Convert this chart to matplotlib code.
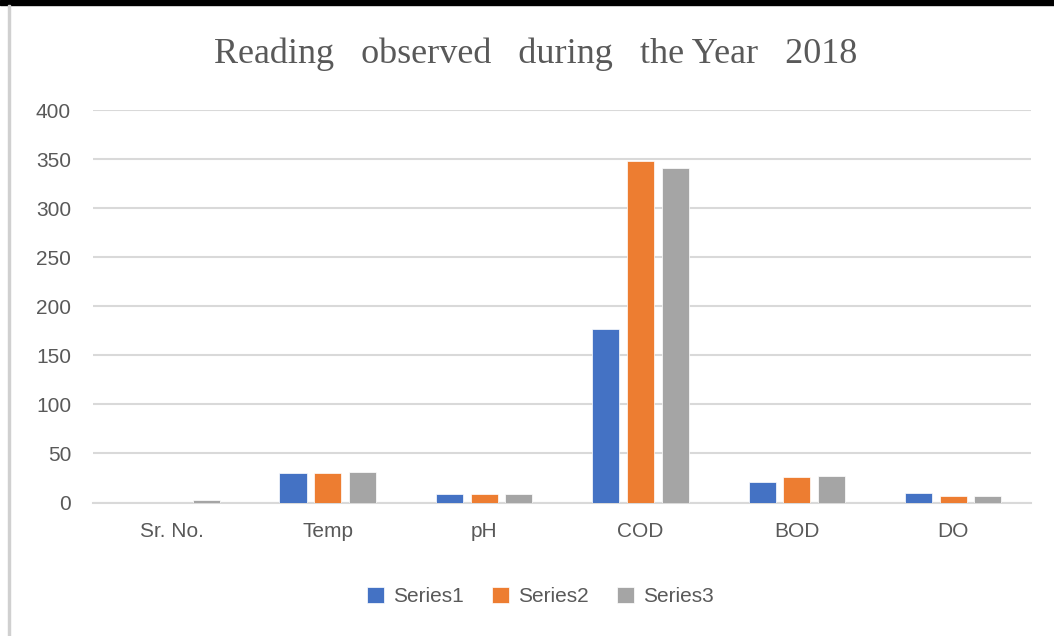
import matplotlib
matplotlib.use("Agg")
import matplotlib.pyplot as plt
import numpy as np
from matplotlib.patches import Rectangle

categories = ["Sr. No.", "Temp", "pH", "COD", "BOD", "DO"]
series_names = ["Series1", "Series2", "Series3"]
series1 = [0, 30, 8.5, 177, 21, 10]
series2 = [0, 30, 8.5, 348, 25.5, 6.5]
series3 = [3, 31.5, 8.5, 341, 27, 6.5]
colors = ["#4472C4", "#ED7D31", "#A5A5A5"]
yticks = [0, 50, 100, 150, 200, 250, 300, 350, 400]
title = "Reading   observed   during   the Year   2018"

fig = plt.figure(figsize=(10.54, 6.36), dpi=100)
ax = fig.add_axes([0.0885, 0.2099, 0.890, 0.617])

x = np.arange(len(categories))
w = 0.173
off = 0.2225
for i, (vals, name, c) in enumerate(zip([series1, series2, series3], series_names, colors)):
    ax.bar(x + (i - 1) * off, vals, width=w, color=c, label=name,
           edgecolor="white", linewidth=0.5, zorder=3)

ax.set_xlim(-0.5, len(categories) - 0.5)
ax.set_ylim(0, 400)
ax.set_yticks(yticks)
ax.set_xticks(x)
ax.set_xticklabels(categories)
ax.grid(axis="y", color="#D9D9D9", linewidth=1.5, zorder=0)
ax.set_axisbelow(True)
for s in ["top", "right", "left"]:
    ax.spines[s].set_visible(False)
ax.spines["bottom"].set_color("#D9D9D9")
ax.spines["bottom"].set_linewidth(1.5)
ax.tick_params(length=0, labelsize=15, labelcolor="#595959")
ax.tick_params(axis="x", pad=14)
ax.tick_params(axis="y", pad=16)
for lab in ax.get_xticklabels() + ax.get_yticklabels():
    lab.set_family("Liberation Sans")

fig.text(0.508, 0.915, title, ha="center", va="center",
         fontsize=26, color="#595959", family="Liberation Serif")

leg = fig.legend(loc="center", bbox_to_anchor=(0.513, 0.062), ncol=3, frameon=False,
                 handlelength=0.8, handleheight=0.8, handletextpad=0.45,
                 columnspacing=1.35, prop={"family": "Liberation Sans", "size": 15})
for t in leg.get_texts():
    t.set_color("#595959")

# frame borders
fig.patches.append(Rectangle((0, 1 - 5 / 636), 1, 5 / 636, transform=fig.transFigure,
                             color="black", zorder=10))
fig.patches.append(Rectangle((8 / 1054, 0), 2 / 1054, 1 - 5 / 636, transform=fig.transFigure,
                             color="#D0D0D0", zorder=10))

fig.savefig("out.png", dpi=100)
